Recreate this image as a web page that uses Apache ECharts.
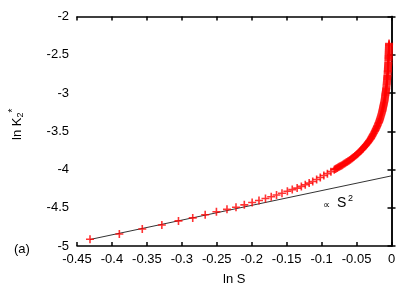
<!DOCTYPE html>
<html>
<head>
<meta charset="utf-8">
<script src="https://cdn.jsdelivr.net/npm/echarts@6/dist/echarts.min.js"></script>
<style>
html,body{margin:0;padding:0;background:#fff;}
#c{width:415px;height:291px;}
</style>
</head>
<body>
<div id="c"></div>
<script>
// ln S values of the data points (red crosses)
const lnS = [-0.4314,-0.3894,-0.3566,-0.3286,-0.3048,-0.2844,-0.2666,-0.2505,-0.2354,-0.2225,
  -0.2106,-0.1994,-0.1896,-0.1803,-0.1721,-0.1645,-0.1567,-0.1490,-0.1420,-0.1350,
  -0.1290,-0.1234,-0.1178,-0.1127,-0.1071,-0.1019,-0.0968,-0.0917,-0.0867,
  -0.0819,-0.0791,-0.0763,-0.0735,-0.0707,-0.0679,-0.0651,-0.0623,-0.0595,-0.0567,
  -0.0539,-0.0511,-0.0483,-0.0455,-0.0434,-0.0413,-0.0392,-0.0371,-0.0354,-0.0337,
  -0.0320,-0.0301,-0.0287,-0.0273,-0.0259,-0.0245,-0.0231,-0.0220,-0.0208,-0.0197,
  -0.0186,-0.0175,-0.0166,-0.0158,-0.0149,-0.0141,-0.0133,-0.0127,-0.0121,-0.0115,
  -0.0109,-0.0103,-0.0098,-0.0094,-0.0090,-0.0087,-0.0082,-0.0078,-0.0075,-0.0070,
  -0.0067,-0.0065,-0.0062,-0.0060,-0.0057,-0.0054,-0.0052,-0.0051,-0.0049,-0.0047,
  -0.0045,-0.0043,-0.0042,-0.0041,-0.0040,-0.0039,-0.0038,-0.0037,-0.0036,-0.0035];
// ln K2* values of the data points
const lnK = [-4.912,-4.843,-4.777,-4.726,-4.672,-4.633,-4.592,-4.553,-4.521,-4.494,
  -4.462,-4.431,-4.405,-4.379,-4.357,-4.334,-4.311,-4.285,-4.263,-4.243,
  -4.221,-4.199,-4.178,-4.157,-4.131,-4.105,-4.079,-4.054,-4.028,
  -4.002,-3.988,-3.972,-3.958,-3.943,-3.926,-3.909,-3.893,-3.876,-3.857,
  -3.836,-3.814,-3.794,-3.769,-3.748,-3.728,-3.707,-3.687,-3.666,-3.647,
  -3.626,-3.603,-3.580,-3.557,-3.533,-3.510,-3.487,-3.464,-3.441,-3.418,
  -3.394,-3.371,-3.345,-3.320,-3.294,-3.268,-3.242,-3.217,-3.191,-3.165,
  -3.139,-3.114,-3.088,-3.062,-3.036,-3.011,-2.985,-2.959,-2.933,-2.895,
  -2.869,-2.843,-2.818,-2.792,-2.766,-2.727,-2.702,-2.676,-2.650,-2.624,
  -2.599,-2.560,-2.534,-2.509,-2.483,-2.457,-2.431,-2.406,-2.380,-2.354];
// further readings in the dense (overlapping) part of the curve
const lnSDense = [-0.0805,-0.0777,-0.0749,-0.0721,-0.0693,-0.0665,-0.0637,-0.0609,-0.0581,-0.0553,
  -0.0525,-0.0497,-0.0469,-0.0445,-0.0424,-0.0403,-0.0382,-0.0363,-0.0346,-0.0329,
  -0.0311,-0.0294,-0.0280,-0.0266,-0.0252,-0.0238,-0.0226,-0.0214,-0.0203,-0.0192,
  -0.0181,-0.0171,-0.0162,-0.0154,-0.0145,-0.0137,-0.0130,-0.0124,-0.0118,-0.0112,
  -0.0106,-0.0100,-0.0096,-0.0092,-0.0088,-0.0084,-0.0080,-0.0076,-0.0072,-0.0068,
  -0.0066,-0.0063,-0.0061,-0.0058,-0.0055,-0.0053,-0.0051,-0.0050,-0.0048,-0.0046,
  -0.0044,-0.0042,-0.0041,-0.0040,-0.0039,-0.0038,-0.0037,-0.0036,-0.0035];
const lnKDense = [-3.995,-3.980,-3.965,-3.951,-3.935,-3.918,-3.901,-3.885,-3.867,-3.847,
  -3.825,-3.804,-3.782,-3.759,-3.738,-3.718,-3.697,-3.677,-3.657,-3.637,
  -3.615,-3.592,-3.569,-3.545,-3.522,-3.499,-3.476,-3.453,-3.430,-3.406,
  -3.383,-3.358,-3.333,-3.307,-3.281,-3.255,-3.230,-3.204,-3.178,-3.152,
  -3.127,-3.101,-3.075,-3.049,-3.024,-2.998,-2.972,-2.946,-2.914,-2.882,
  -2.856,-2.830,-2.805,-2.779,-2.746,-2.714,-2.689,-2.663,-2.637,-2.611,
  -2.579,-2.547,-2.521,-2.496,-2.470,-2.444,-2.418,-2.393,-2.367];
// reference line  ∝ S^2
const fitX = [-0.4314, 0];
const fitY = [-4.915, -4.083];

const pts = lnS.map((x,i)=>[x, lnK[i]]).concat(lnSDense.map((x,i)=>[x, lnKDense[i]]));
const fit = fitX.map((x,i)=>[x, fitY[i]]);

const FONT = 'Liberation Sans';
const FS = 13;
const fmt = v => { const r = +(+v).toFixed(2); return r === 0 ? '0' : String(r); };
const cross = 'path://M-0.2,-1 L0.2,-1 L0.2,-0.2 L1,-0.2 L1,0.2 L0.2,0.2 L0.2,1 L-0.2,1 L-0.2,0.2 L-1,0.2 L-1,-0.2 L-0.2,-0.2Z';

const axisLine = {show:true, lineStyle:{color:'#000', width:1.5}};
const ticks = {show:true, inside:true, length:4, lineStyle:{color:'#000', width:1.5}};

const chart = echarts.init(document.getElementById('c'), null, {renderer:'canvas'});
chart.setOption({
  animation:false,
  backgroundColor:'#fff',
  grid:{left:70, right:23.5, top:16.5, bottom:41.5, containLabel:false},
  xAxis:[{
    type:'value', min:-0.45, max:0, interval:0.05,
    axisLine, axisTick:ticks, splitLine:{show:false},
    axisLabel:{formatter:fmt, color:'#000', fontFamily:FONT, fontSize:FS, margin:7},
    name:'ln S', nameLocation:'middle', nameGap:27,
    nameTextStyle:{color:'#000', fontFamily:FONT, fontSize:FS}
  },{
    type:'value', position:'top', min:-0.45, max:0, interval:0.05,
    axisLine, axisTick:ticks, axisLabel:{show:false}, splitLine:{show:false}
  }],
  yAxis:[{
    type:'value', min:-5, max:-2, interval:0.5,
    axisLine, axisTick:ticks, splitLine:{show:false},
    axisLabel:{formatter:fmt, color:'#000', fontFamily:FONT, fontSize:FS, margin:8},
    name:'ln K{sub|2}{sup|*}', nameLocation:'middle', nameGap:52, nameRotate:90,
    nameTextStyle:{color:'#000', fontFamily:FONT, fontSize:FS, lineHeight:16, padding:[0,0,0,14],
      rich:{
        sub:{fontFamily:FONT, fontSize:9, color:'#000', padding:[7,0,0,0]},
        sup:{fontFamily:FONT, fontSize:10, color:'#000', padding:[0,0,8,0]}
      }}
  },{
    type:'value', position:'right', min:-5, max:-2, interval:0.5,
    axisLine, axisTick:ticks, axisLabel:{show:false}, splitLine:{show:false}
  }],
  graphic:[
    {type:'text', left:14, top:243, style:{text:'(a)', fill:'#000', font:'13px "Liberation Sans"'}},
    {type:'text', x:323, y:205, style:{text:'∝', fill:'#000', font:'10px "DejaVu Sans"', textVerticalAlign:'middle'}},
    {type:'text', left:337, top:196, style:{text:'S', fill:'#000', font:'14px "Liberation Sans"'}},
    {type:'text', left:348, top:194.5, style:{text:'2', fill:'#000', font:'9px "Liberation Sans"'}}
  ],
  series:[
    {type:'line', data:fit, showSymbol:false, symbol:'none', lineStyle:{color:'#333', width:1}, z:2},
    {type:'scatter', data:pts, symbol:cross, symbolSize:8, itemStyle:{color:'#ff0000'}, z:3}
  ]
});
</script>
</body>
</html>
